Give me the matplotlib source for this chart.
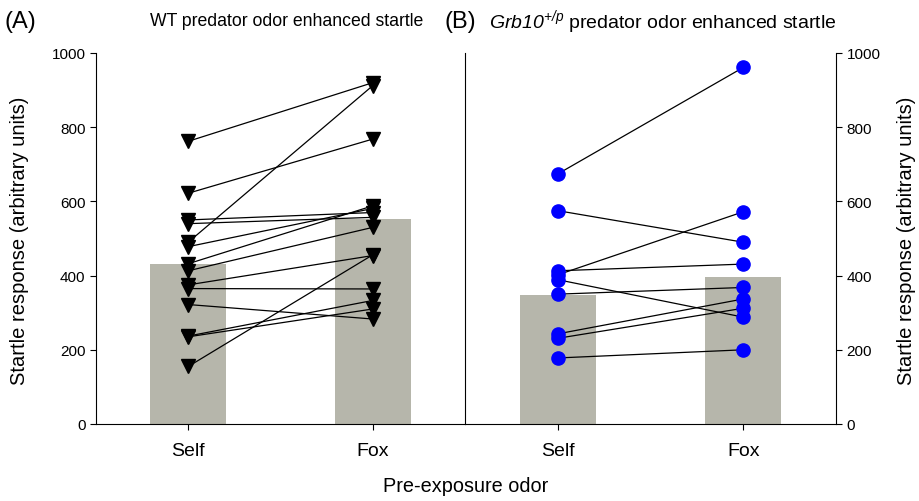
import matplotlib
matplotlib.use("Agg")
import matplotlib.pyplot as plt

plt.rcParams["font.family"] = ["Liberation Sans", "DejaVu Sans"]
plt.rcParams["mathtext.fontset"] = "custom"
plt.rcParams["mathtext.it"] = "Liberation Sans:italic"
plt.rcParams["mathtext.rm"] = "Liberation Sans:italic"

categories = ["Self", "Fox"]

# WT panel (A)
wt_bars = [431, 553]
wt_self = [762, 622, 550, 540, 490, 478, 432, 413, 375, 365, 322, 237, 235, 155]
wt_fox = [920, 768, 570, 557, 912, 581, 588, 530, 454, 364, 283, 333, 310, 456]

# Grb10 panel (B)
grb_bars = [348, 395]
grb_self = [674, 575, 413, 402, 389, 350, 243, 231, 178]
grb_fox = [961, 490, 431, 572, 288, 368, 337, 312, 200]

bar_color = "#b6b6ab"
x = [0, 1]

fig = plt.figure(figsize=(9.19, 5.02), dpi=100)
ax1 = fig.add_axes([96 / 919, 1 - 425 / 502, 369 / 919, 371 / 502])
ax2 = fig.add_axes([465 / 919, 1 - 425 / 502, 371 / 919, 371 / 502])

ax1.bar(x, wt_bars, width=0.41, color=bar_color, zorder=1)
for s, f in zip(wt_self, wt_fox):
    ax1.plot(x, [s, f], color="black", lw=0.9, marker="v", ms=10,
             mfc="black", mec="black", zorder=3)

ax2.bar(x, grb_bars, width=0.41, color=bar_color, zorder=1)
for s, f in zip(grb_self, grb_fox):
    ax2.plot(x, [s, f], color="black", lw=0.9, zorder=2)
    ax2.plot(x, [s, f], ls="none", marker="o", ms=9.5,
             mfc="blue", mec="blue", zorder=3)

for ax in (ax1, ax2):
    ax.set_xlim(-0.5, 1.5)
    ax.set_ylim(0, 1000)
    ax.set_yticks(range(0, 1001, 200))
    ax.set_xticks(x)
    ax.set_xticklabels(categories)
    ax.tick_params(axis="both", direction="out", length=4, labelsize=11)
    ax.tick_params(axis="x", pad=9, labelsize=14)
    ax.spines["top"].set_visible(False)

ax1.spines["right"].set_visible(False)
ax2.spines["left"].set_visible(True)
ax2.yaxis.tick_right()

fig.text(20 / 919, 1 - 241 / 502, "Startle response (arbitrary units)",
         fontsize=14.5, rotation=90, va="center", ha="center")
fig.text(906 / 919, 1 - 241 / 502, "Startle response (arbitrary units)",
         fontsize=14.5, rotation=90, va="center", ha="center")

fig.text(5 / 919, 1 - 22 / 502, "(A)", fontsize=17, va="center", ha="left")
fig.text(287 / 919, 1 - 22 / 502, "WT predator odor enhanced startle",
         fontsize=12.7, va="center", ha="center")
fig.text(445 / 919, 1 - 22 / 502, "(B)", fontsize=17, va="center", ha="left")
fig.text(489 / 919, 1 - 22 / 502,
         r"$\mathit{Grb10}^{\mathit{+/p}}$ predator odor enhanced startle",
         fontsize=14, va="center", ha="left")
fig.text(466 / 919, 1 - 487 / 502, "Pre-exposure odor", fontsize=14.3,
         va="center", ha="center")

fig.savefig("out.png", dpi=100)
